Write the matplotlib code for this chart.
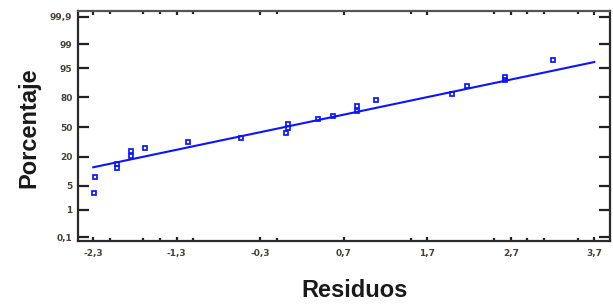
import numpy as np
import matplotlib
matplotlib.use("Agg")
import matplotlib.pyplot as plt
from statistics import NormalDist

# residuos ordenados y su porcentaje acumulado
residuos = [-2.29, -2.28, -2.02, -2.02, -1.85, -1.85, -1.68, -1.17, -0.53,
            0.01, 0.03, 0.03, 0.39, 0.57, 0.86, 0.86, 1.08, 2.00, 2.18,
            2.63, 2.63, 3.20]
porcentaje = [3.2, 8.0, 12.5, 14.9, 20.8, 25.0, 27.8, 33.7, 37.9,
              43.3, 48.9, 53.4, 58.9, 62.1, 67.3, 72.2, 77.6, 82.3, 87.5,
              90.7, 92.0, 97.0]

# recta de referencia (extremos)
recta_x = [-2.3, 3.7]
recta_pct = [12.9, 96.6]

xticks = [-2.3, -1.3, -0.3, 0.7, 1.7, 2.7, 3.7]
xtick_labels = ["-2,3", "-1,3", "-0,3", "0,7", "1,7", "2,7", "3,7"]
xminor = [-2.1, -1.7, -1.5, -1.1, -0.1, 1.5, 2.5, 2.9, 3.1, 3.5]
yticks = [0.1, 1, 5, 20, 50, 80, 95, 99, 99.9]
ytick_labels = ["0,1", "1", "5", "20", "50", "80", "95", "99", "99,9"]

nd = NormalDist()
_ppf = np.vectorize(lambda v: nd.inv_cdf(v / 100.0), otypes=[float])
_cdf = np.vectorize(lambda v: nd.cdf(v) * 100.0, otypes=[float])


def probit(p):
    p = np.clip(np.asarray(p, dtype=float), 1e-6, 100 - 1e-6)
    return _ppf(p)


def inv_probit(z):
    return _cdf(np.asarray(z, dtype=float))


fig = plt.figure(figsize=(6.13, 3.04), dpi=100)
ax = fig.add_axes([0.1272, 0.2072, 0.8679, 0.7566])
ax.set_yscale("function", functions=(probit, inv_probit))

azul = "#0a14ff"
ax.plot(recta_x, recta_pct, color=azul, lw=1.5, zorder=2)
ax.plot(residuos, porcentaje, linestyle="none", marker="s", ms=2.9,
        mfc="none", mec=azul, mew=1.25, zorder=3)

ax.set_xlim(-2.483, 3.888)
ax.set_ylim(nd.cdf(-3.202) * 100, nd.cdf(3.258) * 100)

ax.set_xticks(xticks)
ax.set_xticklabels(xtick_labels)
ax.set_xticks(xminor, minor=True)
ax.set_yticks(yticks)
ax.set_yticklabels(ytick_labels)
ax.yaxis.set_minor_locator(matplotlib.ticker.NullLocator())

for lab in ax.get_xticklabels() + ax.get_yticklabels():
    lab.set_fontfamily("DejaVu Sans")
    lab.set_fontweight("bold")
    lab.set_fontsize(6.5)
    lab.set_color("#4a4038")

ax.tick_params(axis="x", which="major", direction="in", top=True, bottom=True,
               length=3, width=1.6, color="#222222", pad=6)
ax.tick_params(axis="x", which="minor", direction="in", top=True, bottom=True,
               length=2.2, width=1.6, color="#222222")
ax.tick_params(axis="y", which="major", direction="in", left=True, right=True,
               length=8, width=1.6, color="#222222", pad=4)

for s in ax.spines.values():
    s.set_linewidth(1.6)
    s.set_color("#2a2a2a")
ax.spines["top"].set_color("#555555")

ax.set_ylabel("Porcentaje", fontfamily="Liberation Sans", fontweight="bold",
              fontsize=17, color="#1a1a1a")
ax.yaxis.set_label_coords(-0.071, 0.491)
ax.set_xlabel("Residuos", fontfamily="Liberation Sans", fontweight="bold",
              fontsize=17, color="#1a1a1a")
ax.xaxis.set_label_coords(0.52, -0.163)

fig.savefig("out.png", dpi=100)
